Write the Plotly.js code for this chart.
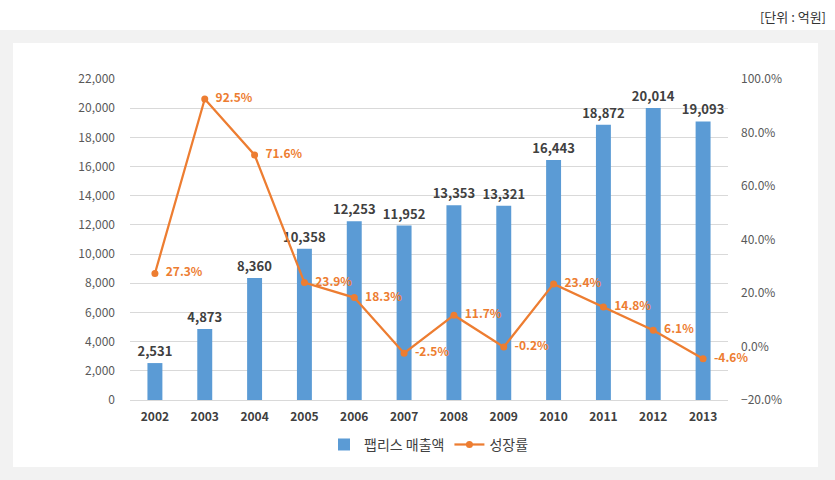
<!DOCTYPE html>
<html>
<head>
<meta charset="utf-8">
<script src="https://cdn.plot.ly/plotly-3.0.1.min.js"></script>
<style>
html,body{margin:0;padding:0;background:#fff;}
#frame{position:absolute;left:0;top:30px;width:835px;height:450px;background:#f2f2f2;}
#inner{position:absolute;left:13px;top:43px;width:805px;height:424px;background:#fff;}
#unit{position:absolute;right:9px;top:7px;font-family:"Noto Sans CJK KR",sans-serif;font-size:13px;color:#333;}
#chart{position:absolute;left:0;top:0;width:835px;height:480px;}
</style>
</head>
<body>
<div id="frame"></div>
<div id="inner"></div>
<div id="unit">[단위 : 억원]</div>
<div id="chart"></div>
<script>
const years = ['2002','2003','2004','2005','2006','2007','2008','2009','2010','2011','2012','2013'];
const sales = [2531,4873,8360,10358,12253,11952,13353,13321,16443,18872,20014,19093];
const growth = [27.3,92.5,71.6,23.9,18.3,-2.5,11.7,-0.2,23.4,14.8,6.1,-4.6];
const salesName = '팹리스 매출액';
const growthName = '성장률';

const font = "'Noto Sans CJK KR', 'Noto Sans', sans-serif";
const traces = [
  {
    type:'bar', x:years, y:sales, name:salesName,
    marker:{color:'#5B9BD5'},
    texttemplate:'%{y:,}', textposition:'outside', cliponaxis:false, constraintext:'none',
    textfont:{family:font, size:13, color:'#404040', weight:'bold'},
    hoverinfo:'none'
  },
  {
    type:'scatter', mode:'lines+markers+text', x:years, y:growth, name:growthName, yaxis:'y2',
    line:{color:'#ED7D31', width:2.25},
    marker:{color:'#ED7D31', size:7},
    texttemplate:'  %{y:.1f}%', textposition:'middle right',
    textfont:{family:font, size:12, color:'#ED7D31', weight:'bold'},
    cliponaxis:false, hoverinfo:'none'
  }
];
const layout = {
  width:835, height:480,
  paper_bgcolor:'rgba(0,0,0,0)', plot_bgcolor:'rgba(0,0,0,0)',
  margin:{l:130, r:107, t:79, b:80, autoexpand:false},
  font:{family:font, size:12, color:'#595959'},
  bargap:0.7,
  showlegend:true,
  legend:{orientation:'h', x:0.5, xanchor:'center', y:-0.09, yanchor:'top',
          font:{family:font, size:14, color:'#404040'}, traceorder:'normal'},
  xaxis:{type:'category', range:[-0.5,11.5], showgrid:false, showline:true, linecolor:'#d9d9d9', ticks:'',
         automargin:false, ticklabelstandoff:6, tickfont:{family:font, size:12, color:'#404040', weight:'bold'}},
  yaxis:{range:[0,22000], dtick:2000, tickformat:',d', showgrid:true, gridcolor:'#d9d9d9',
         zeroline:false, showline:false, ticks:'', automargin:false, ticklabelstandoff:14,
         tickfont:{family:font, size:12, color:'#595959'}},
  yaxis2:{range:[-20,100], dtick:20, tickformat:'.1f', ticksuffix:'%', overlaying:'y', side:'right',
          showgrid:false, zeroline:false, showline:false, automargin:false, ticklabelstandoff:12,
          tickfont:{family:font, size:12, color:'#595959'}}
};
Plotly.newPlot('chart', traces, layout, {displayModeBar:false, staticPlot:true});
</script>
</body>
</html>
